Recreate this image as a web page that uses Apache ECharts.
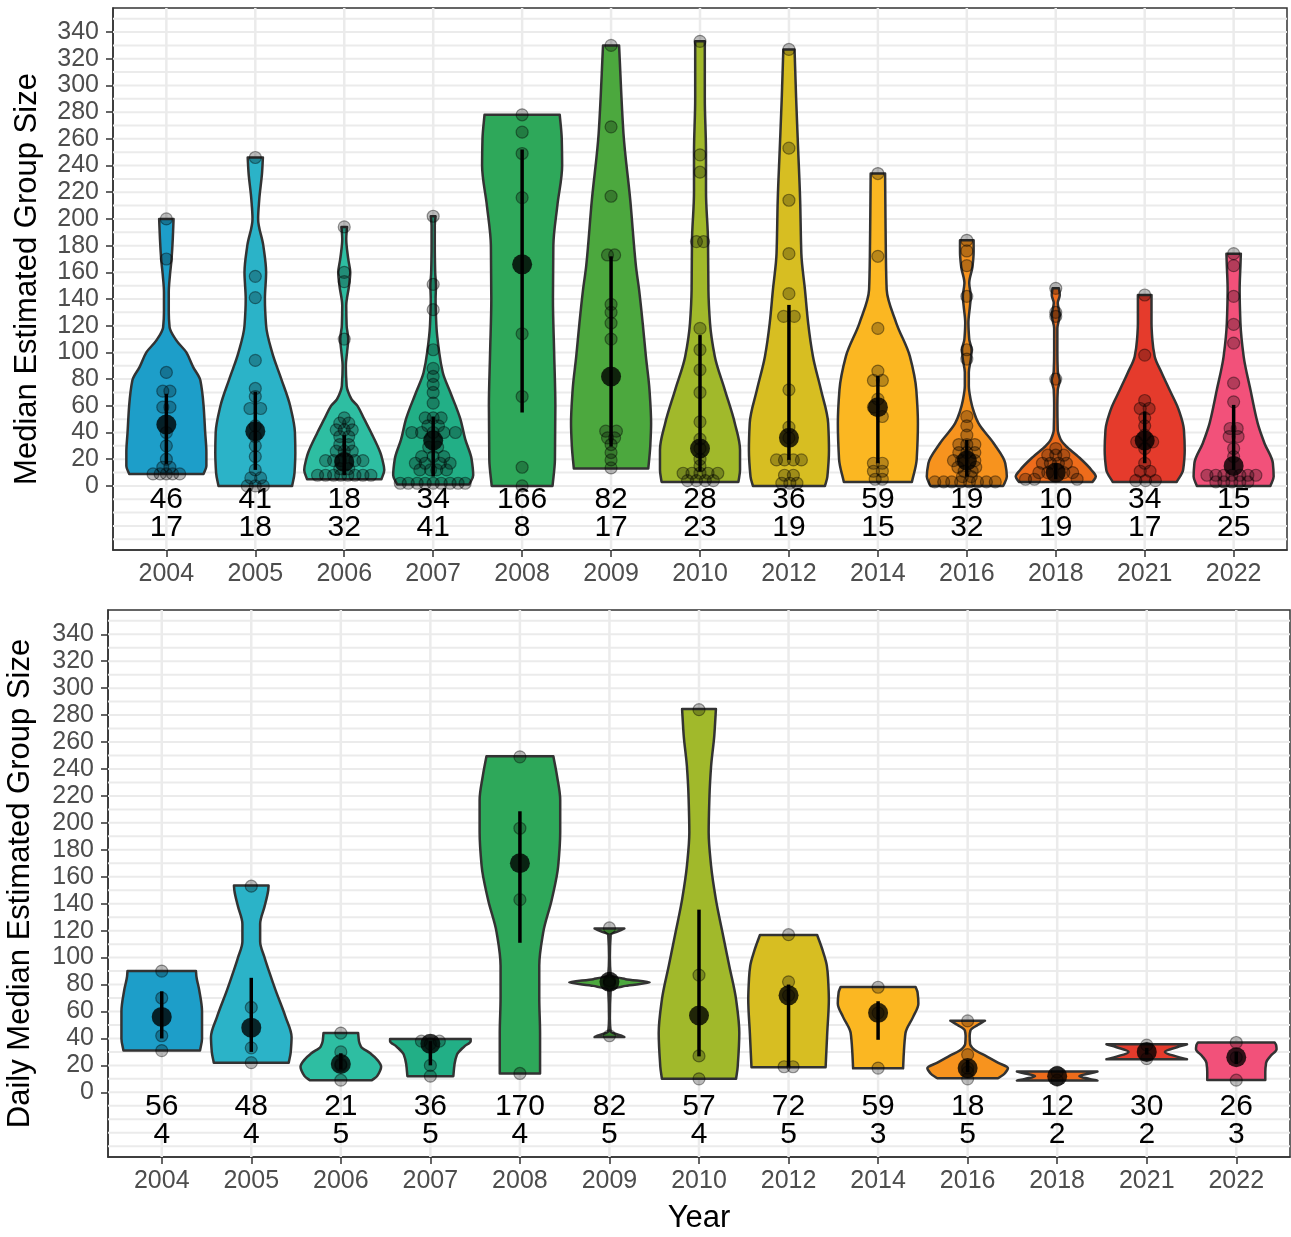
<!DOCTYPE html>
<html>
<head>
<meta charset="utf-8">
<script src="https://cdn.jsdelivr.net/npm/echarts@6/dist/echarts.min.js"></script>
<style>
  html, body { margin: 0; padding: 0; background: #fff; }
  #main { width: 1291px; height: 1237px; }
</style>
</head>
<body>
<div id="main"></div>
<script>
const years = ['2004', '2005', '2006', '2007', '2008', '2009', '2010', '2012', '2014', '2016', '2018', '2021', '2022']
const yearColors = ['#1d9ec9', '#2bb3c8', '#2ebea2', '#22af86', '#2ea85a', '#4ca83e', '#a1b92b',
    '#d7be22', '#fbb722', '#f7931e', '#ee6c1b', '#e53b2c', '#f2517a']
const yTicks = [0, 20, 40, 60, 80, 100, 120, 140, 160, 180, 200, 220, 240, 260, 280, 300, 320, 340]
const gridValues = [-40, -30, -20, -10, 0, 10, 20, 30, 40, 50, 60, 70, 80, 90, 100, 110, 120, 130, 140, 150, 160,
    170, 180, 190, 200, 210, 220, 230, 240, 250, 260, 270, 280, 290, 300, 310, 320, 330, 340, 350]

// ---- top panel: median estimated group size ----
const topMedians = [46, 41, 18, 34, 166, 82, 28, 36, 59, 19, 10, 34, 15]
const topCounts = [17, 18, 32, 41, 8, 17, 23, 19, 15, 32, 19, 17, 25]
const topBarLow = [16.5, 12, 8, 7, 55, 29.5, 10.7, 19.5, 17, 7, 5, 17, 12]
const topBarHigh = [69, 70.6, 38, 52, 252, 172, 113, 135.6, 82.4, 34.5, 17, 55.7, 60.7]
// violin outline: [value, relative half width]
const topViolins = [
    [[9, 0.93], [15, 1.0], [25, 1.0], [40, 0.97], [60, 0.93], [79, 0.85], [89, 0.67], [100, 0.5], [109, 0.25], [119, 0.08], [130, 0.06], [145, 0.06], [158, 0.09], [170, 0.13], [185, 0.16], [200, 0.18]],
    [[0, 0.92], [10, 0.98], [25, 1.0], [40, 0.99], [60, 0.87], [80, 0.65], [100, 0.42], [120, 0.27], [140, 0.24], [160, 0.27], [180, 0.2], [200, 0.07], [215, 0.1], [235, 0.17], [246, 0.19]],
    [[5, 0.93], [12, 1.0], [20, 0.95], [25, 0.9], [40, 0.67], [50, 0.5], [60, 0.33], [65, 0.18], [75, 0.06], [90, 0.04], [100, 0.07], [110, 0.1], [120, 0.06], [135, 0.05], [150, 0.12], [160, 0.15], [170, 0.1], [185, 0.05], [194, 0.07]],
    [[1, 0.9], [8, 1.0], [20, 0.96], [35, 0.8], [50, 0.68], [70, 0.43], [85, 0.24], [100, 0.15], [120, 0.08], [140, 0.06], [150, 0.07], [160, 0.05], [180, 0.04], [195, 0.04], [202, 0.06]],
    [[0, 0.76], [20, 0.82], [60, 0.83], [100, 0.8], [140, 0.77], [180, 0.78], [210, 0.88], [240, 1.0], [260, 0.99], [278, 0.94]],
    [[13, 0.93], [30, 0.98], [47, 1.0], [72, 0.96], [97, 0.87], [122, 0.79], [147, 0.7], [165, 0.62], [214, 0.48], [264, 0.31], [330, 0.2]],
    [[3, 0.96], [12, 1.0], [27, 1.0], [47, 0.87], [72, 0.62], [97, 0.37], [122, 0.25], [147, 0.21], [184, 0.2], [220, 0.15], [250, 0.15], [290, 0.12], [333, 0.12]],
    [[0, 0.9], [7, 0.96], [27, 1.0], [47, 0.98], [72, 0.8], [97, 0.6], [122, 0.48], [147, 0.4], [174, 0.31], [214, 0.28], [252, 0.23], [290, 0.18], [327, 0.14]],
    [[3, 0.85], [20, 0.97], [47, 1.0], [72, 0.96], [97, 0.8], [122, 0.46], [147, 0.22], [172, 0.2], [200, 0.19], [234, 0.18]],
    [[0, 0.91], [7, 1.0], [17, 0.96], [32, 0.67], [47, 0.29], [55, 0.18], [64, 0.1], [75, 0.05], [85, 0.05], [95, 0.1], [102, 0.12], [110, 0.06], [122, 0.04], [135, 0.08], [142, 0.1], [152, 0.06], [164, 0.14], [175, 0.17], [184, 0.17]],
    [[3, 0.92], [7, 1.0], [12, 0.89], [22, 0.56], [30, 0.25], [35, 0.12], [42, 0.05], [60, 0.04], [72, 0.05], [79, 0.1], [86, 0.05], [100, 0.04], [118, 0.04], [128, 0.1], [137, 0.05], [143, 0.1], [148, 0.08]],
    [[3, 0.8], [12, 0.96], [27, 1.0], [42, 0.98], [57, 0.85], [72, 0.62], [85, 0.42], [97, 0.25], [110, 0.19], [122, 0.17], [143, 0.17]],
    [[0, 0.92], [7, 1.0], [17, 0.98], [32, 0.77], [47, 0.6], [72, 0.42], [97, 0.25], [122, 0.17], [147, 0.15], [165, 0.17], [174, 0.18]]
]
// observations: [value, horizontal offset in category units]
const topPoints = [
    [[200, 0], [170, 0], [85, 0], [71, -0.04], [71, 0.04], [59, -0.04], [59, 0.04], [40, 0], [30, 0], [20, 0], [14, -0.04], [14, 0.04], [9, -0.15], [9, -0.07], [9, 0], [9, 0.07], [9, 0.15]],
    [[246, 0], [157, 0], [141, 0], [94, 0], [73, 0], [67, 0], [58, -0.06], [58, 0.06], [45, 0], [37, 0], [30, 0], [22, 0], [12, 0], [6, -0.05], [6, 0.06], [0, -0.09], [0, 0], [0, 0.09]],
    [[194, 0], [160, 0], [153, 0], [110, 0], [51, 0], [47, -0.05], [47, 0.05], [42, -0.09], [42, 0], [42, 0.09], [37, -0.05], [37, 0.05], [31, -0.05], [31, 0.05], [26, -0.09], [26, 0], [26, 0.09],
        [19, -0.21], [19, -0.12], [19, -0.04], [19, 0.12], [19, 0.21], [13, -0.05], [13, 0.05], [8, -0.3], [8, -0.21], [8, -0.12], [8, -0.04], [8, 0.04], [8, 0.12], [8, 0.21], [8, 0.3]],
    [[202, 0], [151, 0], [132, 0], [102, 0], [88, 0], [82, 0], [76, 0], [70, 0], [62, 0], [51, -0.09], [51, 0], [51, 0.09], [45, -0.06], [45, 0.06], [40, -0.24], [40, -0.13], [40, 0], [40, 0.12], [40, 0.25],
        [29, -0.05], [29, 0.05], [22, -0.13], [22, 0], [22, 0.12], [17, -0.2], [17, -0.09], [17, 0.08], [17, 0.19], [12, -0.15], [12, -0.03], [12, 0.04], [12, 0.15],
        [2, -0.37], [2, -0.28], [2, -0.18], [2, -0.09], [2, 0], [2, 0.09], [2, 0.19], [2, 0.28], [2, 0.36]],
    [[278, 0], [265, 0], [249, 0], [216, 0], [114, 0], [67, 0], [14, 0], [0, 0]],
    [[330, 0], [269, 0], [217, 0], [173, -0.04], [173, 0.04], [136, 0], [130, 0], [122, 0], [110, 0], [41, -0.06], [41, 0.06], [36, -0.04], [36, 0.04], [31, 0], [25, 0], [19.5, 0], [13.5, 0]],
    [[333, 0], [248, 0], [235, 0], [183, -0.04], [183, 0.04], [118, 0], [102, 0], [87, 0], [70, 0], [48, 0], [35, 0], [20, 0], [15, 0],
        [9.5, -0.19], [9.5, -0.09], [9.5, 0], [9.5, 0.09], [9.5, 0.2], [4, -0.14], [4, -0.04], [4, 0.06], [4, 0.15], [28, 0]],
    [[327, 0], [253, 0], [214, 0], [174, 0], [144, 0], [127, -0.06], [127, 0.06], [72, 0], [44, 0], [36, 0], [19.5, -0.14], [19.5, -0.05], [19.5, 0.05], [19.5, 0.14], [8, -0.05], [8, 0.05], [2, -0.08], [2, 0.01], [2, 0.09]],
    [[234, 0], [172, 0], [118, 0], [86, 0], [79, -0.05], [79, 0.05], [65, 0], [59, -0.05], [52, 0.05], [17, -0.05], [17, 0.05], [11, -0.05], [11, 0.05], [5, -0.03], [5, 0.05]],
    [[184, 0], [176, 0], [165, 0], [142, 0], [102, 0], [95, 0], [52, 0], [45, 0], [38, 0], [31, -0.09], [31, 0], [31, 0.09], [25, -0.09], [25, 0], [25, 0.09], [19, -0.15], [19, -0.06], [19, 0.09],
        [14, -0.1], [14, 0.1], [11, -0.03], [11, 0.06], [7, -0.05], [7, 0.05], [3, -0.36], [3, -0.26], [3, -0.17], [3, -0.07], [3, 0.03], [3, 0.12], [3, 0.22], [3, 0.32]],
    [[148, 0], [130, 0], [127, 0], [80, 0], [28, 0], [23, -0.09], [23, 0], [23, 0.09], [17, -0.15], [17, -0.06], [17, 0.03], [17, 0.12], [10, -0.19], [10, -0.09], [10, 0.09], [10, 0.19], [5, -0.34], [5, -0.24], [5, 0.24]],
    [[143, 0], [98, 0], [64, 0], [58, -0.05], [58, 0.05], [51, 0], [45, 0], [38, 0], [33, -0.09], [33, 0.09], [28, 0], [17, 0], [11, -0.05], [11, 0.06], [4, -0.1], [4, 0.01], [4, 0.12]],
    [[174, 0], [165, 0], [142, 0], [121, 0], [107, 0], [77, 0], [63, 0], [43, -0.04], [43, 0.04], [37, -0.05], [37, 0.05], [28, 0], [22, 0],
        [8, -0.3], [8, -0.2], [8, -0.11], [8, -0.02], [8, 0.07], [8, 0.16], [8, 0.25], [3, -0.2], [3, -0.11], [3, -0.02], [3, 0.07], [3, 0.16]]
]

// ---- bottom panel: daily median estimated group size ----
const dailyMedians = [56, 48, 21, 36, 170, 82, 57, 72, 59, 18, 12, 30, 26]
const dailyCounts = [4, 4, 5, 5, 4, 5, 4, 5, 3, 5, 2, 2, 3]
const dailyBarLow = [40, 30, 17, 20, 111, 82, 26.7, 19, 39, 15, 12, 28, 21]
const dailyBarHigh = [75, 85, 29, 38, 208.6, 82, 135.6, 80, 67.6, 24, 12, 33, 30]
const dailyViolins = [
    [[31, 0.95], [40, 1.0], [60, 1.0], [76, 0.93], [86, 0.86], [90, 0.85]],
    [[22, 0.93], [30, 0.98], [41, 1.0], [56, 0.85], [76, 0.6], [89, 0.45], [100, 0.33], [112, 0.22], [125, 0.22], [138, 0.33], [150, 0.42], [153.5, 0.43]],
    [[9, 0.77], [12, 0.9], [19, 1.0], [25, 0.88], [29, 0.73], [34, 0.5], [38, 0.45], [44, 0.43]],
    [[12, 0.57], [21, 0.6], [28, 0.66], [34, 0.84], [38, 1.0], [39.5, 1.0]],
    [[14, 0.5], [44, 0.5], [70, 0.48], [94, 0.48], [119, 0.58], [143, 0.79], [168, 0.95], [193, 1.0], [217, 1.0], [235, 0.92], [249.5, 0.83]],
    [[41, 0.37], [42, 0.3], [45, 0.03], [55, 0.01], [76, 0.03], [79, 0.4], [81.7, 1.0], [84, 0.4], [87, 0.03], [100, 0.01], [117, 0.03], [120.5, 0.3], [121.6, 0.37]],
    [[10, 0.92], [19, 0.96], [44, 1.0], [69, 0.92], [94, 0.75], [119, 0.58], [143, 0.42], [168, 0.3], [193, 0.24], [220, 0.26], [242, 0.3], [265, 0.38], [284.6, 0.42]],
    [[18.6, 0.92], [44, 0.96], [69, 1.0], [85, 0.98], [94, 0.95], [105, 0.85], [116.8, 0.71]],
    [[17.8, 0.62], [30, 0.64], [44, 0.68], [56, 0.87], [66, 1.0], [74, 0.98], [78.2, 0.93]],
    [[10.4, 0.75], [14, 0.92], [18, 1.0], [22, 0.75], [27, 0.45], [32, 0.15], [36, 0.06], [42, 0.05], [46, 0.07], [50, 0.25], [53.2, 0.43]],
    [[8.7, 1.0], [10, 0.8], [12, 0.55], [14, 0.8], [15.4, 1.0]],
    [[24.5, 1.0], [26.5, 0.75], [30, 0.45], [33.5, 0.75], [35.6, 1.0]],
    [[9.2, 0.72], [15, 0.72], [22, 0.74], [27, 0.85], [32, 1.0], [35, 0.99], [37, 0.95]]
]
const dailyPoints = [
    [[90, 0], [70, 0], [42, 0], [31, 0]],
    [[153, 0], [63, 0], [33, 0], [22, 0]],
    [[44, 0], [30, 0], [21, 0], [20, 0], [9, 0]],
    [[38, -0.1], [38, 0.1], [36, 0], [20, 0], [12, 0]],
    [[249, 0], [196, 0], [143, 0], [14, 0]],
    [[122, 0], [83, 0], [82, 0], [81, 0], [42, 0]],
    [[284, 0], [87, 0], [27, 0], [10, 0]],
    [[117, 0], [82, 0], [72, 0], [19, -0.05], [19, 0.05]],
    [[78, 0], [59, 0], [18, 0]],
    [[53, 0], [28, 0], [18, 0], [15, 0], [10, 0]],
    [[15, 0], [9, 0]],
    [[35, 0], [25, 0]],
    [[37, 0], [26, 0], [9, 0]]
]

const FONT = '"Liberation Sans", Arial, Helvetica, sans-serif'
const HALF = 0.45          // max violin half width in category units
const MEDIAN_ROW = -10.5   // y position of median label row
const COUNT_ROW = -31.5    // y position of sample size row
const yearIdx = years.map((_, i) => i)

const chart = echarts.init(document.getElementById('main'))

function xAxisFor(gi, name) {
    return {
        type: 'value', gridIndex: gi, min: -0.6, max: 12.6,
        axisLine: { show: true, onZero: false, lineStyle: { color: '#333', width: 1.5 } },
        axisTick: { show: true, customValues: yearIdx, length: 7, lineStyle: { color: '#333', width: 1.5 } },
        axisLabel: { customValues: yearIdx, formatter: v => years[Math.round(v)], fontSize: 25, color: '#4d4d4d', fontFamily: FONT, margin: 12 },
        splitLine: { show: false },
        name: name, nameLocation: 'middle', nameGap: 46,
        nameTextStyle: { fontSize: 31, color: '#000', fontFamily: FONT }
    }
}

function yAxisFor(gi, name, gap) {
    return {
        type: 'value', gridIndex: gi, min: -48, max: 358,
        axisLine: { show: true, onZero: false, lineStyle: { color: '#333', width: 1.5 } },
        axisTick: { show: true, customValues: yTicks, length: 7, lineStyle: { color: '#333', width: 1.5 } },
        axisLabel: { customValues: yTicks, fontSize: 25, color: '#4d4d4d', fontFamily: FONT, margin: 14 },
        splitLine: { show: false },
        name: name, nameLocation: 'middle', nameGap: gap,
        nameTextStyle: { fontSize: 31, color: '#000', fontFamily: FONT }
    }
}

// monotone slopes (dw/dv) so the outline bends smoothly without overshoot
function slopes(prof) {
    const n = prof.length, d = [], m = []
    for (let k = 0; k < n - 1; k++) d.push((prof[k + 1][1] - prof[k][1]) / (prof[k + 1][0] - prof[k][0]))
    m[0] = d[0]
    m[n - 1] = d[n - 2]
    for (let k = 1; k < n - 1; k++) {
        m[k] = (d[k - 1] * d[k] <= 0) ? 0 : 2 / (1 / d[k - 1] + 1 / d[k])
    }
    return m
}

function violinPath(i, prof, api) {
    const m = slopes(prof)
    const n = prof.length
    const P = (x, v) => api.coord([x, v]).join(' ')
    let d = 'M' + P(i + prof[0][1] * HALF, prof[0][0])
    for (let k = 0; k < n - 1; k++) {
        const h = prof[k + 1][0] - prof[k][0]
        d += ' C' + P(i + (prof[k][1] + m[k] * h / 3) * HALF, prof[k][0] + h / 3) +
            ' ' + P(i + (prof[k + 1][1] - m[k + 1] * h / 3) * HALF, prof[k + 1][0] - h / 3) +
            ' ' + P(i + prof[k + 1][1] * HALF, prof[k + 1][0])
    }
    d += ' L' + P(i - prof[n - 1][1] * HALF, prof[n - 1][0])
    for (let k = n - 2; k >= 0; k--) {
        const h = prof[k + 1][0] - prof[k][0]
        d += ' C' + P(i - (prof[k + 1][1] - m[k + 1] * h / 3) * HALF, prof[k + 1][0] - h / 3) +
            ' ' + P(i - (prof[k][1] + m[k] * h / 3) * HALF, prof[k][0] + h / 3) +
            ' ' + P(i - prof[k][1] * HALF, prof[k][0])
    }
    return d + ' Z'
}

function panelSeries(gi, violins, points, medians, counts, lows, highs) {
    const base = { xAxisIndex: gi, yAxisIndex: gi, silent: true, animation: false }
    const pointData = []
    points.forEach((list, i) => list.forEach(([v, off]) => pointData.push([i + off, v])))
    return [
        {
            ...base, type: 'custom', z: 1,
            data: gridValues.map(v => [0, v]),
            renderItem: (params, api) => {
                const cs = params.coordSys
                const y = api.coord([0, api.value(1)])[1]
                return { type: 'line', shape: { x1: cs.x, y1: y, x2: cs.x + cs.width, y2: y }, style: { stroke: '#ebebeb', lineWidth: 2 } }
            }
        },
        {
            ...base, type: 'custom', z: 1,
            data: yearIdx.map(i => [i, 0]),
            renderItem: (params, api) => {
                const cs = params.coordSys
                const x = api.coord([api.value(0), 0])[0]
                return { type: 'line', shape: { x1: x, y1: cs.y, x2: x, y2: cs.y + cs.height }, style: { stroke: '#ebebeb', lineWidth: 2.5 } }
            }
        },
        {
            ...base, type: 'custom', z: 2,
            data: yearIdx.map(i => [i, 0]),
            renderItem: (params, api) => {
                const i = params.dataIndex
                return {
                    type: 'path', shape: { pathData: violinPath(i, violins[i], api) },
                    style: { fill: yearColors[i], stroke: '#333', lineWidth: 2.5, lineJoin: 'round' }
                }
            }
        },
        {
            ...base, type: 'scatter', z: 3, symbolSize: 12, data: pointData,
            itemStyle: { color: 'rgba(0,0,0,0.32)', borderColor: 'rgba(0,0,0,0.5)', borderWidth: 1.2 }
        },
        {
            ...base, type: 'custom', z: 4,
            data: yearIdx.map(i => [i, lows[i], highs[i]]),
            renderItem: (params, api) => {
                const a = api.coord([api.value(0), api.value(1)])
                const b = api.coord([api.value(0), api.value(2)])
                return { type: 'line', shape: { x1: a[0], y1: a[1], x2: b[0], y2: b[1] }, style: { stroke: '#000', lineWidth: 3.5 } }
            }
        },
        {
            ...base, type: 'scatter', z: 5, symbolSize: 20,
            data: medians.map((m, i) => [i, m]),
            itemStyle: { color: '#000' }
        },
        {
            ...base, type: 'custom', z: 5,
            data: yearIdx.map(i => [i, medians[i], counts[i]]),
            renderItem: (params, api) => {
                const i = api.value(0)
                const p1 = api.coord([i, MEDIAN_ROW])
                const p2 = api.coord([i, COUNT_ROW])
                const st = { fill: '#000', font: '30px ' + FONT, align: 'center', verticalAlign: 'middle' }
                return {
                    type: 'group', children: [
                        { type: 'text', x: p1[0], y: p1[1], style: { ...st, text: String(api.value(1)) } },
                        { type: 'text', x: p2[0], y: p2[1], style: { ...st, text: String(api.value(2)) } }
                    ]
                }
            }
        }
    ]
}

const option = {
    backgroundColor: '#fff',
    animation: false,
    grid: [
        { left: 113, right: 4, top: 8, height: 542, show: true, borderColor: '#333', borderWidth: 1.5, containLabel: false, outerBoundsMode: 'none' },
        { left: 108, right: 1, top: 610, height: 547, show: true, borderColor: '#333', borderWidth: 1.5, containLabel: false, outerBoundsMode: 'none' }
    ],
    xAxis: [xAxisFor(0, ''), xAxisFor(1, 'Year')],
    yAxis: [yAxisFor(0, 'Median Estimated Group Size', 70), yAxisFor(1, 'Daily Median Estimated Group Size', 72)],
    series: [
        ...panelSeries(0, topViolins, topPoints, topMedians, topCounts, topBarLow, topBarHigh),
        ...panelSeries(1, dailyViolins, dailyPoints, dailyMedians, dailyCounts, dailyBarLow, dailyBarHigh)
    ]
}
chart.setOption(option)
</script>
</body>
</html>
